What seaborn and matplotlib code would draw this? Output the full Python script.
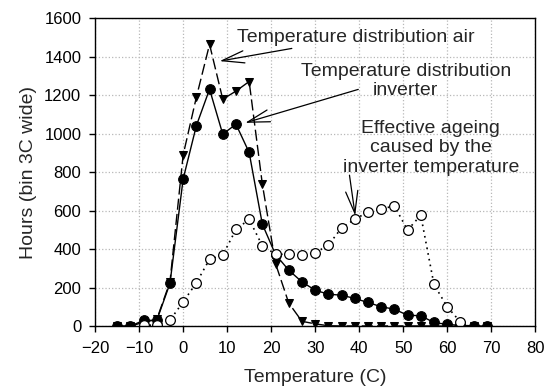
import seaborn as sns
import pandas as pd
import matplotlib.pyplot as plt

# Data (3C bins)
temp_air = [-15, -12, -9, -6, -3, 0, 3, 6, 9, 12, 15, 18, 21, 24, 27, 30, 33, 36, 39,
            42, 45, 48, 51, 54, 57, 60, 63, 66, 69]
hours_air = [0, 0, 20, 35, 230, 890, 1190, 1465, 1180, 1222, 1272, 738, 325, 120, 25, 12,
             2, 1, 1, 1, 1, 1, 1, 1, 1, 0, 0, 0, 0]

temp_inv = temp_air
hours_inv = [0, 0, 30, 30, 222, 765, 1042, 1232, 998, 1050, 903, 530, 372, 291, 230, 187,
             166, 161, 144, 123, 101, 88, 57, 54, 19, 9, 4, 2, 0]

temp_age = [-9, -6, -3, 0, 3, 6, 9, 12, 15, 18, 21, 24, 27, 30, 33, 36, 39, 42, 45, 48,
            51, 54, 57, 60, 63]
hours_age = [5, 5, 31, 126, 225, 348, 369, 503, 555, 418, 374, 373, 369, 381, 421, 511,
             555, 594, 608, 626, 499, 577, 217, 101, 22]

x_ticks = [-20, -10, 0, 10, 20, 30, 40, 50, 60, 70, 80]
y_ticks = [0, 200, 400, 600, 800, 1000, 1200, 1400, 1600]

sns.set_theme(style="ticks", rc={
    "axes.edgecolor": "black",
    "axes.linewidth": 1.0,
    "xtick.color": "black",
    "ytick.color": "black",
    "grid.color": "#b8b8b8",
    "grid.linestyle": ":",
    "grid.linewidth": 0.9,
})
plt.rcParams['font.family'] = ['Liberation Sans', 'DejaVu Sans']

fig, ax = plt.subplots(figsize=(5.5, 3.92), dpi=100)
fig.subplots_adjust(left=0.173, right=0.973, top=0.953, bottom=0.168)

df_air = pd.DataFrame({"temp": temp_air, "hours": hours_air})
df_inv = pd.DataFrame({"temp": temp_inv, "hours": hours_inv})
df_age = pd.DataFrame({"temp": temp_age, "hours": hours_age})

sns.lineplot(data=df_air, x="temp", y="hours", ax=ax, color="black", linewidth=1.0,
             linestyle=(0, (8, 3)), marker="v", markersize=6,
             markerfacecolor="black", markeredgecolor="black")
sns.lineplot(data=df_inv, x="temp", y="hours", ax=ax, color="black", linewidth=1.0,
             marker="o", markersize=7, markerfacecolor="black",
             markeredgecolor="black")
sns.lineplot(data=df_age, x="temp", y="hours", ax=ax, color="black", linewidth=1.2,
             linestyle=(0, (1, 2.5)), marker="o", markersize=7,
             markerfacecolor="white", markeredgecolor="black", markeredgewidth=0.9)

ax.set_xlim(-20, 80)
ax.set_ylim(0, 1600)
ax.set_xticks(x_ticks)
ax.set_yticks(y_ticks)
ax.grid(True)
ax.set_axisbelow(True)
ax.tick_params(axis="both", labelsize=12, length=4, width=1, direction="out")
ax.tick_params(axis="y", pad=6)
ax.tick_params(axis="x", pad=7)
ax.set_xlabel("Temperature (C)", fontsize=14, labelpad=9)
ax.set_ylabel("Hours (bin 3C wide)", fontsize=14, labelpad=5)

# annotation texts
ax.text(39.2, 1503, "Temperature distribution air", ha="center", va="center", fontsize=14)
ax.text(50.6, 1274, "Temperature distribution\ninverter", ha="center", va="center",
        fontsize=14, linespacing=1.15)
ax.text(56.3, 928, "Effective ageing\ncaused by the\ninverter temperature",
        ha="center", va="center", fontsize=14, linespacing=1.2)

# open-headed arrows
arrow = dict(arrowstyle="->, head_length=0.8, head_width=0.22", color="black", lw=0.9,
             mutation_scale=20, shrinkA=0, shrinkB=0)
ax.annotate("", xy=(8.3, 1378), xytext=(24.7, 1444), arrowprops=arrow)
ax.annotate("", xy=(14.1, 1057), xytext=(39.8, 1231), arrowprops=arrow)
ax.annotate("", xy=(39.1, 575), xytext=(37.8, 785), arrowprops=arrow)

fig.savefig("out.png", dpi=100)
